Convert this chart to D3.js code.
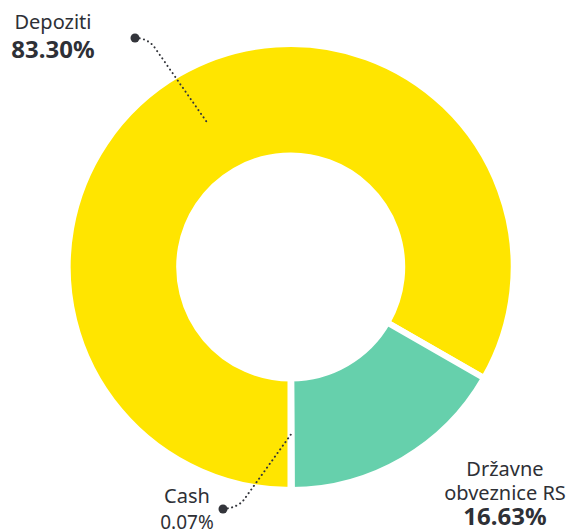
<!DOCTYPE html>
<html>
<head>
<meta charset="utf-8">
<script src="https://cdn.jsdelivr.net/npm/d3@7"></script>
<style>
  html, body { margin: 0; padding: 0; background: #fff; }
  text { font-family: "Noto Sans", sans-serif; fill: #2e3036; }
</style>
</head>
<body>
<div id="chart"></div>
<script>
// data
const categories = ["Depoziti", "Državne obveznice RS", "Cash"];
const shares = [83.30, 16.63, 0.07];
const sliceColors = ["#ffe500", "#66d0ac", "#9aa0a6"];
const labelLines = [["Depoziti"], ["Državne", "obveznice RS"], ["Cash"]];
const valueLabels = ["83.30%", "16.63%", "0.07%"];

const width = 569, height = 532;
const cx = 290.7, cy = 267;
const gap = 6;
const outerR = 220 + gap / 2, innerR = 114.5 - gap / 2;

const svg = d3.select("#chart")
  .append("svg")
  .attr("width", width)
  .attr("height", height);

const g = svg.append("g")
  .attr("transform", "translate(" + cx + "," + cy + ")");

// last slice (cash) ends at 6 o'clock
const pie = d3.pie()
  .sort(null)
  .value(d => d)
  .startAngle(-Math.PI)
  .endAngle(Math.PI);

const arcs = pie(shares);

const arc = d3.arc()
  .innerRadius(innerR)
  .outerRadius(outerR);

const mid = d3.arc()
  .innerRadius(114.5)
  .outerRadius(220);

g.selectAll("path.slice")
  .data(arcs)
  .enter()
  .append("path")
  .attr("class", "slice")
  .attr("d", arc)
  .attr("fill", (d, i) => sliceColors[i])
  .attr("stroke", "#fff")
  .attr("stroke-width", gap)
  .attr("stroke-linejoin", "miter");

// label placement (layout only)
const labelPos = [
  { x: 53, y: 29, dot: [135, 38], bend: [[148, 38], [155, 48]] },
  { x: 505, y: 476, dot: null },
  { x: 187, y: 503, dot: [223, 509], bend: [[236, 508], [243, 501]] }
];

const labels = svg.selectAll("g.label")
  .data(arcs)
  .enter()
  .append("g")
  .attr("class", "label");

labels.each(function (d, i) {
  const el = d3.select(this);
  const p = labelPos[i];

  if (p.dot) {
    const c = mid.centroid(d);
    const end = [c[0] + cx, c[1] + cy];
    const path = d3.path();
    path.moveTo(p.dot[0], p.dot[1]);
    path.quadraticCurveTo(p.bend[0][0], p.bend[0][1], p.bend[1][0], p.bend[1][1]);
    path.lineTo(end[0], end[1]);
    el.append("path")
      .attr("d", path.toString())
      .attr("fill", "none")
      .attr("stroke", "#33353b")
      .attr("stroke-width", 2)
      .attr("stroke-linecap", "round")
      .attr("stroke-dasharray", "0.1 4.4");
    el.append("circle")
      .attr("cx", p.dot[0])
      .attr("cy", p.dot[1])
      .attr("r", 4.5)
      .attr("fill", "#33353b");
  }

  const t = el.append("text")
    .attr("text-anchor", "middle")
    .attr("x", p.x)
    .attr("y", p.y);

  labelLines[i].forEach((line, k) => {
    t.append("tspan")
      .attr("x", p.x)
      .attr("dy", k === 0 ? 0 : 24)
      .style("font-size", "20px")
      .text(line);
  });

  t.append("tspan")
    .attr("x", p.x)
    .attr("dy", i === 2 ? 26 : (i === 1 ? 25 : 29))
    .style("font-size", i === 2 ? "19px" : "24px")
    .style("font-weight", i === 2 ? 400 : 700)
    .text(valueLabels[i]);
});
</script>
</body>
</html>
